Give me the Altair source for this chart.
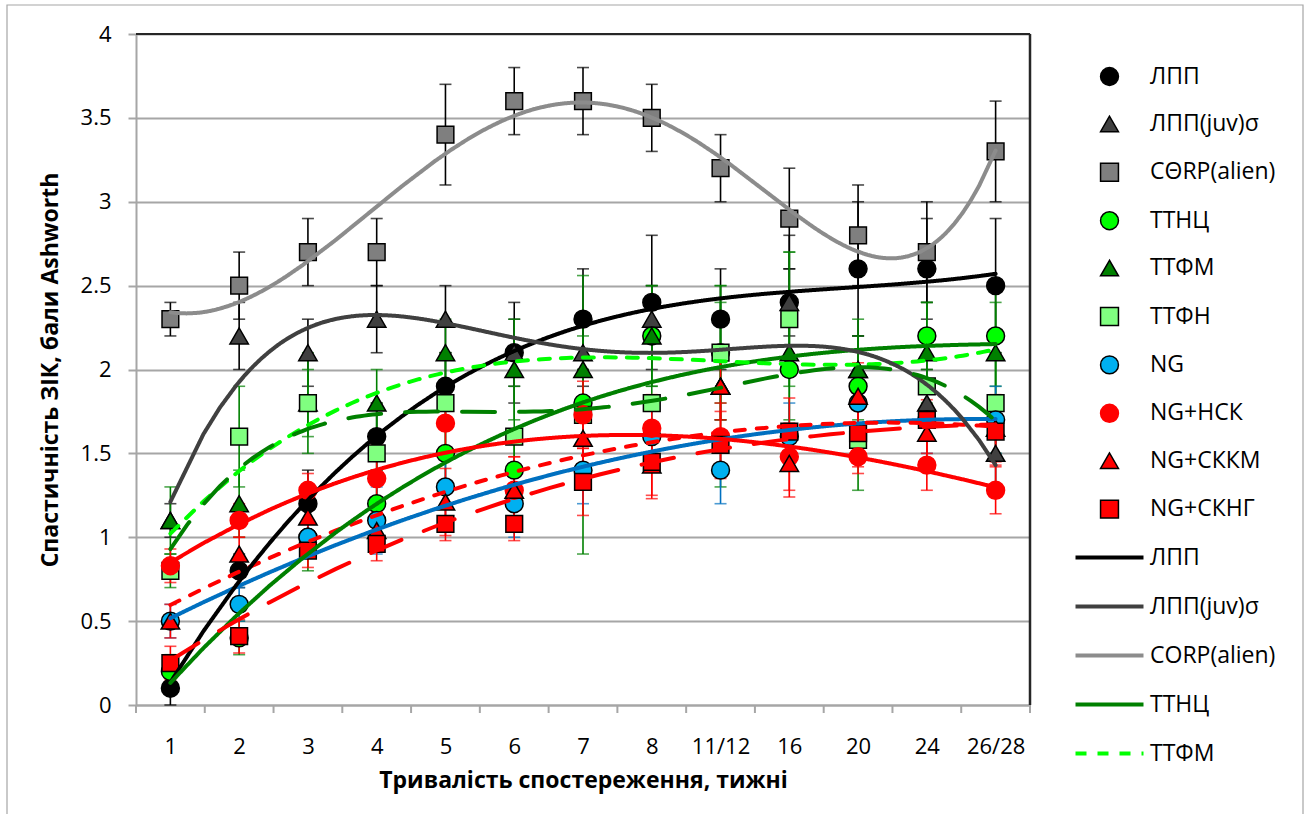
import json
import altair as alt
import pandas as pd

categories = ["1", "2", "3", "4", "5", "6", "7", "8", "11/12", "16", "20", "24", "26/28"]
series_names = ["ЛПП", "ЛПП(juv)σ", "CΘRP(alien)", "ТТНЦ", "ТТФМ", "ТТФН",
                "NG", "NG+НСК", "NG+СККМ", "NG+СКНГ"]
trend_names = ["ЛПП", "ЛПП(juv)σ", "CORP(alien)", "ТТНЦ", "ТТФМ", "ТТФН (тренд)",
               "NG (тренд)", "NG+НСК (тренд)", "NG+СККМ (тренд)", "NG+СКНГ (тренд)"]

lpp = [0.1, 0.8, 1.2, 1.6, 1.9, 2.1, 2.3, 2.4, 2.3, 2.4, 2.6, 2.6, 2.5]
lpp_juv = [1.1, 2.2, 2.1, 2.3, 2.3, 2.1, 2.1, 2.3, 1.9, 2.4, 2.0, 1.8, 1.5]
corp = [2.3, 2.5, 2.7, 2.7, 3.4, 3.6, 3.6, 3.5, 3.2, 2.9, 2.8, 2.7, 3.3]
ttnc = [0.2, 0.4, 1.0, 1.2, 1.5, 1.4, 1.8, 2.2, 2.1, 2.0, 1.9, 2.2, 2.2]
ttfm = [1.1, 1.2, 1.8, 1.8, 2.1, 2.0, 2.0, 2.2, 1.9, 2.1, 2.0, 2.1, 2.1]
ttfn = [0.8, 1.6, 1.8, 1.5, 1.8, 1.6, 1.73, 1.8, 2.1, 2.3, 1.58, 1.9, 1.8]
ng = [0.5, 0.6, 1.0, 1.1, 1.3, 1.2, 1.4, 1.6, 1.4, 1.6, 1.8, 1.7, 1.7]
ng_nsk = [0.83, 1.1, 1.28, 1.35, 1.68, 1.28, 1.73, 1.65, 1.6, 1.48, 1.48, 1.43, 1.28]
ng_skkm = [0.5, 0.9, 1.12, 1.04, 1.21, 1.28, 1.59, 1.43, 1.9, 1.44, 1.84, 1.62, 1.65]
ng_skng = [0.25, 0.41, 0.92, 0.96, 1.08, 1.08, 1.33, 1.45, 1.55, 1.63, 1.62, 1.7, 1.63]

lpp_err = [0.1, 0.1, 0.2, 0.2, 0.2, 0.3, 0.3, 0.4, 0.3, 0.4, 0.4, 0.3, 0.4]
lpp_juv_err = [0.1, 0.2, 0.2, 0.2, 0.2, 0.2, 0.2, 0.2, 0.2, 0.2, 0.2, 0.2, 0.2]
corp_err = [0.1, 0.2, 0.2, 0.2, 0.3, 0.2, 0.2, 0.2, 0.2, 0.3, 0.3, 0.3, 0.3]
ttnc_err = [0.1, 0.1, 0.2, 0.2, 0.2, 0.2, 0.2, 0.3, 0.3, 0.3, 0.3, 0.2, 0.3]
ttfm_err = [0.2, 0.2, 0.2, 0.2, 0.2, 0.3, 0.2, 0.3, 0.6, 0.6, 0.3, 0.3, 0.3]
ttfn_err = [0.1, 0.3, 0.3, 0.3, 0.3, 0.3, 0.83, 0.3, 0.4, 0.4, 0.3, 0.3, 0.3]
ng_err = [0.1, 0.1, 0.1, 0.2, 0.2, 0.2, 0.2, 0.2, 0.2, 0.2, 0.2, 0.2, 0.2]
ng_nsk_err = [0.1, 0.1, 0.1, 0.2, 0.2, 0.2, 0.2, 0.2, 0.2, 0.2, 0.1, 0.15, 0.14]
ng_skkm_err = [0.1, 0.1, 0.1, 0.1, 0.2, 0.2, 0.2, 0.2, 0.2, 0.2, 0.2, 0.2, 0.2]
ng_skng_err = [0.1, 0.1, 0.1, 0.1, 0.1, 0.1, 0.2, 0.2, 0.2, 0.2, 0.2, 0.2, 0.2]

all_values = [lpp, lpp_juv, corp, ttnc, ttfm, ttfn, ng, ng_nsk, ng_skkm, ng_skng]
all_errors = [lpp_err, lpp_juv_err, corp_err, ttnc_err, ttfm_err, ttfn_err,
              ng_err, ng_nsk_err, ng_skkm_err, ng_skng_err]

fill_colors = ["#000000", "#404040", "#7F7F7F", "#00FF00", "#008000", "#80FF80",
               "#00B0F0", "#FF0000", "#FF0000", "#FF0000"]
outline_colors = ["#000000"] * 7 + ["#FF0000", "#000000", "#000000"]
shapes = ["circle", "triangle-up", "square", "circle", "triangle-up", "square",
          "circle", "circle", "triangle-up", "square"]
err_colors = ["#000000", "#000000", "#000000", "#008000", "#008000", "#008000",
              "#0070C0", "#FF0000", "#FF0000", "#FF0000"]
shape_sizes = {"circle": 320, "square": 280, "triangle-up": 340}
trend_colors = ["#000000", "#404040", "#8C8C8C", "#008000", "#00FF00", "#008000",
                "#0070C0", "#FF0000", "#FF0000", "#FF0000"]
trend_dashes = [[1, 0], [1, 0], [1, 0], [1, 0], [11, 11], [33, 24],
                [1, 0], [1, 0], [10, 12], [33, 24]]
trend_orders = [3, 4, 5, 3, 3, 4, 2, 3, 2, 3]

rows = []
for s, (name, tname) in enumerate(zip(series_names, trend_names)):
    for i, cat in enumerate(categories):
        v = all_values[s][i]
        e = all_errors[s][i]
        rows.append({"xi": i + 1, "cat": cat, "v": v, "lo": v - e, "hi": v + e,
                     "series": name, "trend": tname, "ecol": err_colors[s],
                     "msize": shape_sizes[shapes[s]]})
df = pd.DataFrame(rows)

W, H = 894, 671
FONT = "Open Sans"
GRID = "#A6A6A6"
BORDER = "#262626"

xscale = alt.Scale(domain=[0.5, len(categories) + 0.5], nice=False, zero=False)
yscale = alt.Scale(domain=[0, 4], nice=False, zero=False)
label_expr = json.dumps(categories, ensure_ascii=False) + "[datum.value - 1]"

x_axis = alt.Axis(
    values=list(range(1, len(categories) + 1)), labelExpr=label_expr, ticks=False,
    grid=False, domainColor=GRID, domainWidth=2, labelPadding=31,
    labelFont=FONT, labelFontSize=22, labelColor="#000000",
    title="Тривалість спостереження, тижні", titleFont=FONT, titleFontSize=23,
    titleFontWeight="bold", titleX=447, titleY=75, titleBaseline="middle",
    titleAlign="center", titleColor="#000000")
y_axis = alt.Axis(
    values=[0, 0.5, 1, 1.5, 2, 2.5, 3, 3.5, 4], format="~g",
    grid=True, gridColor=GRID, gridWidth=2, domainColor=GRID, domainWidth=2,
    tickColor=GRID, tickWidth=2, tickSize=8, labelPadding=17,
    labelFont=FONT, labelFontSize=22, labelColor="#000000",
    title="Спастичність ЗІК, бали Ashworth", titleFont=FONT, titleFontSize=23,
    titleFontWeight="bold", titleX=-86, titleY=H / 2, titleAngle=270,
    titleAlign="center", titleBaseline="middle", titleColor="#000000")


def X(field):
    return alt.X(field, scale=xscale, axis=x_axis)


def Y(field):
    return alt.Y(field, scale=yscale, axis=y_axis)


base = alt.Chart(df)
one = pd.DataFrame({"a": [0]})

# frame around the whole chart
frame = alt.Chart(one).mark_rect(
    fill="transparent", stroke="#A6A6A6", strokeWidth=1.2).encode(
    x=alt.value(7 - 136), x2=alt.value(1303 - 136),
    y=alt.value(5 - 34), y2=alt.value(840 - 34))

right_border = alt.Chart(one).mark_rule(color=BORDER, strokeWidth=2.5).encode(
    x=alt.value(W), y=alt.value(0), y2=alt.value(H))
top_border = alt.Chart(one).mark_rule(color=BORDER, strokeWidth=2).encode(
    x=alt.value(0), x2=alt.value(W), y=alt.value(0))

bounds = pd.DataFrame({"b": [i + 0.5 for i in range(len(categories) + 1)]})
xticks = alt.Chart(bounds).mark_rule(color=GRID, strokeWidth=2).encode(
    x=X("b:Q"), y=alt.value(H), y2=alt.value(H + 8))

err_layers = []
for col in sorted(set(err_colors), key=err_colors.index):
    sub = base.transform_filter(alt.FieldEqualPredicate(field="ecol", equal=col))
    err_layers.append(sub.mark_rule(strokeWidth=1.6, color=col).encode(
        x=X("xi:Q"), y=Y("lo:Q"), y2="hi:Q"))
    err_layers.append(sub.mark_tick(orient="horizontal", size=12, thickness=1.6,
                                    color=col).encode(x=X("xi:Q"), y=Y("lo:Q")))
    err_layers.append(sub.mark_tick(orient="horizontal", size=12, thickness=1.6,
                                    color=col).encode(x=X("xi:Q"), y=Y("hi:Q")))

marker_legend = alt.Legend(
    title=None, orient="none", legendX=962, legendY=31, padding=0,
    symbolSize=320, symbolStrokeWidth=1.5,
    labelFont=FONT, labelFontSize=23, labelColor="#000000", labelOffset=29,
    rowPadding=23.4, labelLimit=300)

markers = base.mark_point(filled=True, opacity=1, strokeWidth=1.5).encode(
    x=X("xi:Q"), y=Y("v:Q"),
    fill=alt.Fill("series:N", scale=alt.Scale(domain=series_names, range=fill_colors),
                  legend=marker_legend),
    shape=alt.Shape("series:N", scale=alt.Scale(domain=series_names, range=shapes),
                    legend=marker_legend),
    stroke=alt.Stroke("series:N", scale=alt.Scale(domain=series_names, range=outline_colors),
                      legend=marker_legend),
    size=alt.Size("msize:Q", scale=None))

line_legend = alt.Legend(
    title=None, orient="none", legendX=962, legendY=512, padding=0,
    values=trend_names[:5], symbolType="M-4,0H4", symbolSize=289,
    symbolStrokeWidth=4, labelFont=FONT, labelFontSize=23, labelColor="#000000",
    labelOffset=29, rowPadding=25, labelLimit=300)

color_scale = alt.Scale(domain=trend_names, range=trend_colors)
dash_scale = alt.Scale(domain=trend_names, range=trend_dashes)

trend_layers = []
for o in sorted(set(trend_orders)):
    names = [t for t, k in zip(trend_names, trend_orders) if k == o]
    trend_layers.append(
        base.transform_filter(alt.FieldOneOfPredicate(field="trend", oneOf=names))
        .transform_regression("xi", "v", method="poly", order=o, groupby=["trend"],
                              extent=[1, len(categories)])
        .mark_line(strokeWidth=4, strokeCap="round")
        .encode(x=X("xi:Q"), y=Y("v:Q"),
                color=alt.Color("trend:N", scale=color_scale, legend=line_legend),
                strokeDash=alt.StrokeDash("trend:N", scale=dash_scale, legend=line_legend))
    )

chart = alt.layer(
    frame, right_border, top_border, xticks, *err_layers, markers, *trend_layers
).properties(
    width=W, height=H,
    autosize=alt.AutoSizeParams(type="none"),
    padding={"left": 136, "top": 34, "right": 1312 - 136 - W, "bottom": 814 - 34 - H},
    background="#FFFFFF",
).configure_view(stroke=None)

chart.save("out.html", embed_options={"renderer": "svg", "actions": False})
